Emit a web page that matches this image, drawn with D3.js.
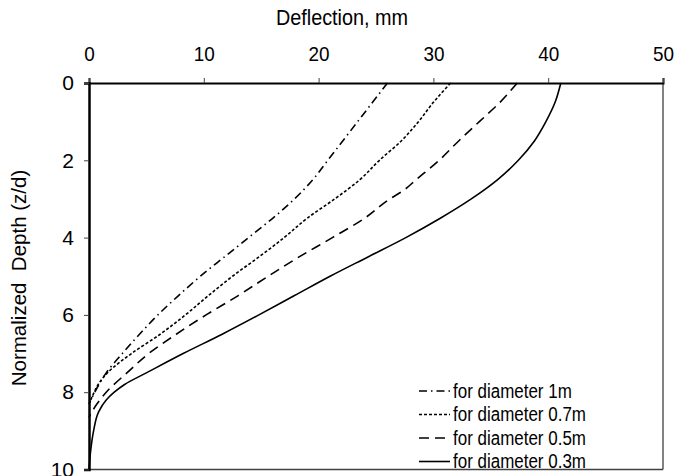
<!DOCTYPE html>
<html><head><meta charset="utf-8">
<script src="https://cdn.jsdelivr.net/npm/d3@7"></script>
<style>body{margin:0;background:#fff}svg{display:block}</style>
</head><body><svg id="c" width="677" height="476"></svg>
<script>
const xTicks = [0,10,20,30,40,50];
const yTicks = [0,2,4,6,8,10];
const seriesNames = ["for diameter 1m","for diameter 0.7m","for diameter 0.5m","for diameter 0.3m"];
const depth1m = [0,0.5,1,1.5,2,2.5,3,3.5,4,4.5,5,5.5,6,6.5,7,7.5,8,8.3];
const defl1m  = [26.0,24.7,23.4,22.1,20.8,19.5,17.9,16.0,13.9,11.8,9.7,7.8,6.0,4.4,2.9,1.5,0.5,0];
const depth07 = [0,0.5,1,1.5,2,2.5,3,3.5,4,4.5,5,5.5,6,6.5,7,7.5,7.8,8.1,8.3];
const defl07  = [31.5,30.0,28.7,27.2,25.3,23.6,21.4,19.0,17.0,14.8,12.5,10.4,8.4,6.2,3.7,1.6,0.8,0.3,0];
const depth05 = [0,0.5,1,1.5,2,2.5,2.8,3,3.5,4,4.5,5,5.5,6,6.5,7,7.5,8,8.3,8.65];
const defl05  = [37.3,35.8,34.0,32.2,30.5,28.5,27.3,26.2,24.0,21.2,18.3,15.6,13.0,10.2,7.6,5.2,3.3,1.5,0.7,0];
const depth03 = [0,0.5,1,1.5,2,2.5,3,3.5,4,4.5,5,5.5,6,6.5,7,7.5,7.8,8,8.2,8.5,9,9.5,10];
const defl03  = [41.1,40.6,39.8,38.8,37.4,35.6,33.3,30.6,27.6,24.3,21.0,17.9,14.8,11.6,8.2,5.0,3.1,2.2,1.5,0.85,0.4,0.15,0];

const dashes = ["8,4,1.5,4","3,2","10,6",null];
const series = [
  {name:seriesNames[0], d:depth1m, v:defl1m},
  {name:seriesNames[1], d:depth07, v:defl07},
  {name:seriesNames[2], d:depth05, v:defl05},
  {name:seriesNames[3], d:depth03, v:defl03}
];

const L=89, R=663, T=83, B=469.5;
const svg = d3.select("#c");
const x = d3.scaleLinear().domain([0,50]).range([L,R]);
const y = d3.scaleLinear().domain([0,10]).range([T,B]);
const sans = "'Liberation Sans',Arial,sans-serif";

svg.append("line").attr("x1",R).attr("x2",R).attr("y1",T).attr("y2",B).attr("stroke","#404040").attr("stroke-width",1.3);
svg.append("line").attr("x1",L).attr("x2",R).attr("y1",B).attr("y2",B).attr("stroke","#404040").attr("stroke-width",1.3);

const line = d3.line().curve(d3.curveMonotoneY);
series.forEach((s,i)=>{
  const pts = s.d.map((dd,k)=>[x(s.v[k]), y(dd)]);
  svg.append("path").attr("d",line(pts)).attr("fill","none").attr("stroke","#000")
    .attr("stroke-width",1.6).attr("stroke-dasharray",dashes[i]);
});

function squeeze(sel, f){ sel.each(function(){ const w=this.getComputedTextLength(); d3.select(this).attr("textLength",w*f).attr("lengthAdjust","spacingAndGlyphs"); }); }

const gx = svg.append("g").attr("transform",`translate(0,${T})`)
  .call(d3.axisTop(x).tickValues(xTicks).tickSize(5).tickPadding(17).tickFormat(d3.format("d")));
gx.select(".domain").attr("stroke","#000").attr("stroke-width",2);
gx.selectAll(".tick line").attr("stroke","#444");
gx.selectAll("text").attr("font-family",sans).attr("font-size",21).attr("fill","#000");
squeeze(gx.selectAll("text"),0.9);

const gy = svg.append("g").attr("transform",`translate(${L},0)`)
  .call(d3.axisLeft(y).tickValues(yTicks).tickSize(5).tickPadding(10).tickFormat(d3.format("d")));
gy.select(".domain").attr("stroke","#000").attr("stroke-width",2.5);
gy.selectAll(".tick line").attr("stroke","#444");
gy.selectAll("text").attr("font-family",sans).attr("font-size",21).attr("fill","#000");

const title = svg.append("text").attr("x",342).attr("y",25).attr("text-anchor","middle")
  .attr("font-family",sans).attr("font-size",22).text("Deflection, mm");
squeeze(title,0.9);
svg.append("text").attr("transform","translate(26,278) rotate(-90)").attr("text-anchor","middle")
  .attr("font-family",sans).attr("font-size",20.5).attr("xml:space","preserve").style("white-space","pre").text("Normalized  Depth (z/d)");

const lg = svg.append("g");
series.forEach((s,i)=>{
  const yy = 391 + i*23.5;
  lg.append("line").attr("x1",419).attr("x2",450).attr("y1",yy).attr("y2",yy)
    .attr("stroke","#000").attr("stroke-width",1.6).attr("stroke-dasharray",dashes[i]);
  const t = lg.append("text").attr("x",453).attr("y",yy).attr("dy","0.35em")
    .attr("font-family",sans).attr("font-size",19.5).text(s.name);
  squeeze(t,0.87);
});
</script></body></html>
